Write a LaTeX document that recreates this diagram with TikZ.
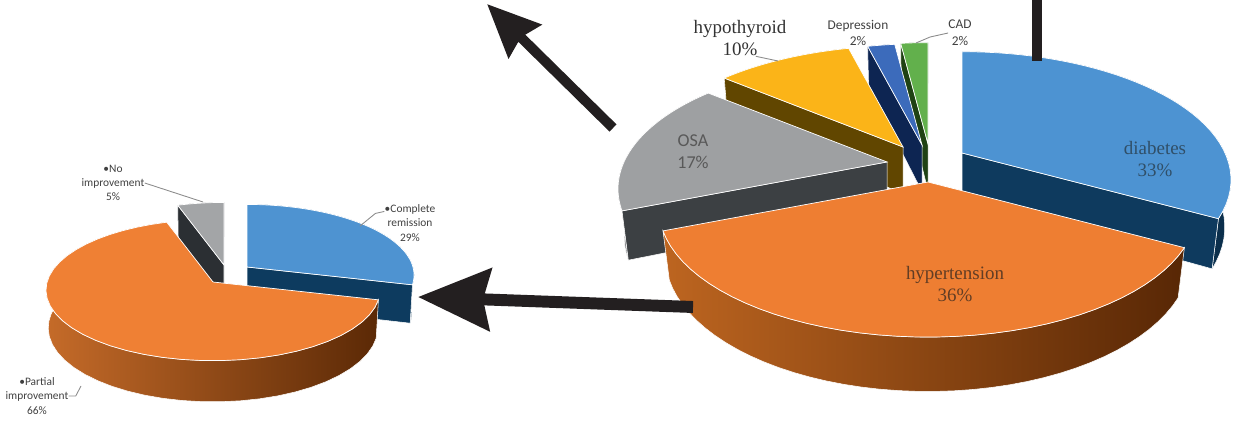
\documentclass[tikz,border=0pt]{standalone}
\usepackage{fontspec}
\setmainfont{Liberation Serif}
\newfontfamily\timesfont{Liberation Serif}
\newfontfamily\calibri{Carlito}
\usepackage{tikz}
\usetikzlibrary{arrows.meta}

\definecolor{diabtop}{HTML}{4D93D2}
\definecolor{diabside}{HTML}{0E3A5E}
\definecolor{hyptop}{HTML}{EE7E32}
\definecolor{hypside}{HTML}{9A4A12}
\definecolor{hypwallL}{HTML}{BD6520}
\definecolor{hypwallR}{HTML}{582705}
\definecolor{osatop}{HTML}{9EA0A2}
\definecolor{osaside}{HTML}{3C4043}
\definecolor{osawall}{HTML}{85878A}
\definecolor{hypotop}{HTML}{FBB418}
\definecolor{hyposide}{HTML}{614600}
\definecolor{deptop}{HTML}{3C6BBB}
\definecolor{depside}{HTML}{0D2552}
\definecolor{cadtop}{HTML}{62B04C}
\definecolor{cadside}{HTML}{1F4214}
\definecolor{remtop}{HTML}{4E93D1}
\definecolor{remside}{HTML}{0D3B5F}
\definecolor{partop}{HTML}{EF8034}
\definecolor{parwallL}{HTML}{C56B29}
\definecolor{parwallR}{HTML}{5B2906}
\definecolor{noitop}{HTML}{A3A5A7}
\definecolor{noiside}{HTML}{2B2F33}
\definecolor{arrowblack}{HTML}{231F20}

\tikzstyle{serlabel} = [align=center, inner sep=0pt, font=\timesfont\fontsize{10.8}{12.8}\selectfont]
\tikzstyle{sanslabel} = [align=center, inner sep=0pt, text=black!75, font=\calibri\fontsize{7.6}{9.6}\selectfont]
\tikzstyle{smalllabel} = [align=center, inner sep=0pt, text=black!75, font=\calibri\fontsize{6.5}{8.1}\selectfont]
\tikzstyle{leader} = [draw=black!45, line width=0.5pt]
\tikzstyle{bigarrow} = [draw=arrowblack, line width=6.8pt, -{Stealth[length=41pt,width=35pt,inset=4pt]}]
\tikzstyle{midarrow} = [draw=arrowblack, line width=5.7pt, -{Stealth[length=30pt,width=26pt,inset=3pt]}]
\tikzstyle{barline} = [draw=arrowblack, line width=6.2pt]

% perspective of a tilted pie, angle clockwise from 12 o'clock
\tikzset{declare function={
  pvx(\t,\r,\h)=\pieF*\r*sin(\t)/(\pieD-\h*\pieS+\r*cos(\t)*\pieC);
  pvy(\t,\r,\h)=-\pieF*(\h*\pieC+\r*cos(\t)*\pieS)/(\pieD-\h*\pieS+\r*cos(\t)*\pieC);
}}

% cut face of a slice: apex, angle, colour
\newcommand{\cutface}[4]{%
  \filldraw[fill=#4, draw=white, line width=0.3pt] (#1,#2) -- ({#1+pvx(#3,1,0)},{#2+pvy(#3,1,0)}) -- ({#1+pvx(#3,1,-\pieH)},{#2+pvy(#3,1,-\pieH)}) -- ({#1},{#2+pvy(0,0,-\pieH)}) -- cycle;
}
% rim of a slice: apex, angles, shading colours
\newcommand{\rimwall}[6]{%
  \shadedraw[left color=#5, right color=#6, draw=white, line width=0.3pt] plot[domain=#3:#4, samples=40] ({#1+pvx(\x,1,0)},{#2+pvy(\x,1,0)}) -- plot[domain=#4:#3, samples=40] ({#1+pvx(\x,1,-\pieH)},{#2+pvy(\x,1,-\pieH)}) -- cycle;
}
% #1,#2 apex, #3,#4 angles, #5 top, #6 cut faces, #7,#8 rim shading
\newcommand{\pieslice}[8]{%
  \rimwall{#1}{#2}{#3}{#4}{#7}{#8}%
  \pgfmathtruncatemacro\startvis{sin(#3)<-0.001}%
  \pgfmathtruncatemacro\endvis{sin(#4)>0.001}%
  \ifnum\startvis=1 \cutface{#1}{#2}{#3}{#6}\fi
  \ifnum\endvis=1 \cutface{#1}{#2}{#4}{#6}\fi
  \filldraw[fill=#5, draw=white, line width=0.4pt] (#1,#2) -- plot[domain=#3:#4, samples=40] ({#1+pvx(\x,1,0)},{#2+pvy(\x,1,0)}) -- cycle;
}

\begin{document}
\begin{tikzpicture}[x=0.02cm, y=-0.02cm]
\useasboundingbox (0,0) rectangle (1240,428);
%\draw[help lines,step=50] (0,0) grid (1240,428);

% left pie
\def\pieF{1316}\def\pieD{7.93}\def\pieS{0.42}\def\pieC{0.906}\def\pieH{0.253}
\pieslice{224}{265}{342}{360}{noitop}{noiside}{noiside}{noiside}
\pieslice{247}{267}{0}{104.4}{remtop}{remside}{remside}{remside!80!black}
\pieslice{213}{282}{104.4}{342}{partop}{parwallR}{parwallL}{parwallR}

% right pie
\def\pieF{1110}\def\pieD{4.22}\def\pieS{0.466}\def\pieC{0.885}\def\pieH{0.205}
\pieslice{928}{144}{352.8}{360}{cadtop}{cadside}{cadside}{cadside}
\pieslice{922}{145}{345.6}{352.8}{deptop}{depside}{depside}{depside}
\pieslice{903}{147}{309.6}{345.6}{hypotop}{hyposide}{hyposide}{hyposide!80!black}
\pieslice{962}{153}{0}{118.8}{diabtop}{diabside}{diabside}{diabside!80!black}
\pieslice{887}{162}{248.4}{309.6}{osatop}{osaside}{osawall}{osaside}
\pieslice{928}{182}{118.8}{248.4}{hyptop}{hypside}{hypwallL}{hypwallR}

% labels
\node[smalllabel] (noimp) at (113,183) {•No\\improvement\\5\%};
\node[smalllabel] (complrem) at (410,223) {•Complete\\remission\\29\%};
\node[smalllabel] (partimp) at (37,396) {•Partial\\improvement\\66\%};
\node[serlabel, text=black!80] (hypolab) at (740,38) {hypothyroid\\10\%};
\node[sanslabel] (deplab) at (858,33) {Depression\\2\%};
\node[sanslabel] (cadlab) at (960,33) {CAD\\2\%};
\node[align=center, inner sep=0pt, text=black!65, font=\calibri\fontsize{10.3}{12.5}\selectfont] (osalab) at (693,152) {OSA\\17\%};
\node[serlabel, text=diabside!70!gray] (diablab) at (1155,159) {diabetes\\33\%};
\node[serlabel, text=hypwallR!75!gray] (hyplab) at (955,284) {hypertension\\36\%};

\coordinate (noimpend) at (203,202);
\coordinate (complend) at (360,226);
\coordinate (partend) at (81,386);
\coordinate (hypoend) at (778,61);
\coordinate (cadend) at (916,43);
\draw[leader] (noimp.east) -- (noimpend);
\draw[leader] ([yshift=-4pt]complrem.north west) -- ++(-9,2) -- (complend);
\draw[leader] (partimp.east) -- ++(7,0) -- (partend);
\draw[leader] ([xshift=9pt]hypolab.south) -- (hypoend);
\draw[leader] (cadlab.west) -- ++(-18,4) -- (cadend);

% arrows
\coordinate (tailA) at (613,128);
\coordinate (tipA) at (487,4);
\coordinate (barA) at (1037,-8);
\coordinate (barB) at (1037,61);
\coordinate (tailB) at (693,307);
\coordinate (tipB) at (418,297);
\draw[midarrow] (tailA) -- (tipA);
\draw[barline] (barB) -- (barA);
\draw[bigarrow] (tailB) -- (tipB);
\end{tikzpicture}
\end{document}
